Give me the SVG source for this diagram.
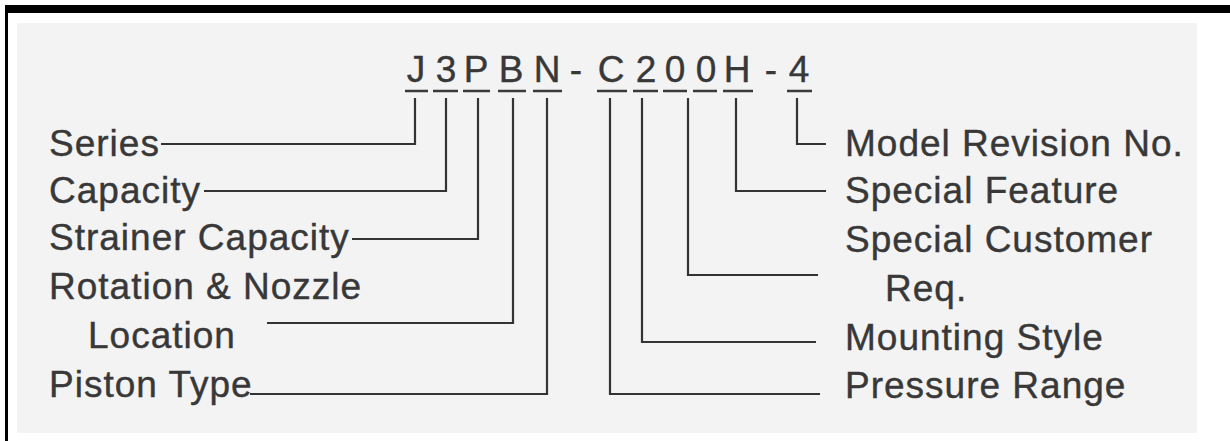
<svg xmlns="http://www.w3.org/2000/svg" width="1230" height="441" viewBox="0 0 1230 441">
<style>
.t{font-family:"Liberation Sans",Arial,sans-serif;font-size:37px;fill:#383838;stroke:#383838;stroke-width:0.4;letter-spacing:1px}
.c{font-family:"Liberation Sans",Arial,sans-serif;font-size:37px;fill:#383838;stroke:#383838;stroke-width:0.4;text-anchor:middle}
.u{stroke:#3a3a3a;stroke-width:2.5;fill:none}
.k{stroke:#333;stroke-width:2.2;fill:none}
</style>
<rect x="0" y="0" width="1230" height="441" fill="#fff"/>
<rect x="17" y="23" width="1180" height="410" fill="#f3f3f3"/>
<rect x="5" y="5" width="1225" height="8" fill="#000"/>
<rect x="5" y="5" width="3" height="436" fill="#000"/>
<g id="code">
<text class="c" x="416" y="82">J</text>
<text class="c" x="446" y="82">3</text>
<text class="c" x="476" y="82">P</text>
<text class="c" x="511" y="82">B</text>
<text class="c" x="547" y="82">N</text>
<text class="c" x="576" y="82">-</text>
<text class="c" x="611" y="82">C</text>
<text class="c" x="646" y="82">2</text>
<text class="c" x="675" y="82">0</text>
<text class="c" x="706" y="82">0</text>
<text class="c" x="737" y="82">H</text>
<text class="c" x="771" y="82">-</text>
<text class="c" x="799" y="82">4</text>
<path class="u" d="M405 91H428M433 91H458M463 91H490M498 91H526M533 91H562M597 91H627M633 91H658M663 91H687M693 91H717M723 91H753M787 91H812"/>
</g>
<g id="series"><text class="t" x="49" y="156">Series</text></g>
<g id="capacity"><text class="t" x="49" y="203">Capacity</text></g>
<g id="strainer"><text class="t" x="49" y="250">Strainer Capacity</text></g>
<g id="rotation"><text class="t" x="49" y="299">Rotation &amp; Nozzle</text><text class="t" x="88" y="348">Location</text></g>
<g id="piston"><text class="t" x="49" y="397">Piston Type</text></g>
<g id="model"><text class="t" x="845" y="156">Model Revision No.</text></g>
<g id="feature"><text class="t" x="845" y="203">Special Feature</text></g>
<g id="customer"><text class="t" x="845" y="252">Special Customer</text><text class="t" x="885" y="301">Req.</text></g>
<g id="mounting"><text class="t" x="845" y="350">Mounting Style</text></g>
<g id="pressure"><text class="t" x="845" y="398">Pressure Range</text></g>
<g id="connectors">
<path class="k" d="M415 98V144H161"/>
<path class="k" d="M446 98V191H204"/>
<path class="k" d="M478 98V239H352"/>
<path class="k" d="M513 98V323H267"/>
<path class="k" d="M547 98V394H250"/>
<path class="k" d="M610 98V394H820"/>
<path class="k" d="M642 98V342H816"/>
<path class="k" d="M688 98V275H818"/>
<path class="k" d="M736 98V191H826"/>
<path class="k" d="M797 98V144H826"/>
</g>
</svg>
